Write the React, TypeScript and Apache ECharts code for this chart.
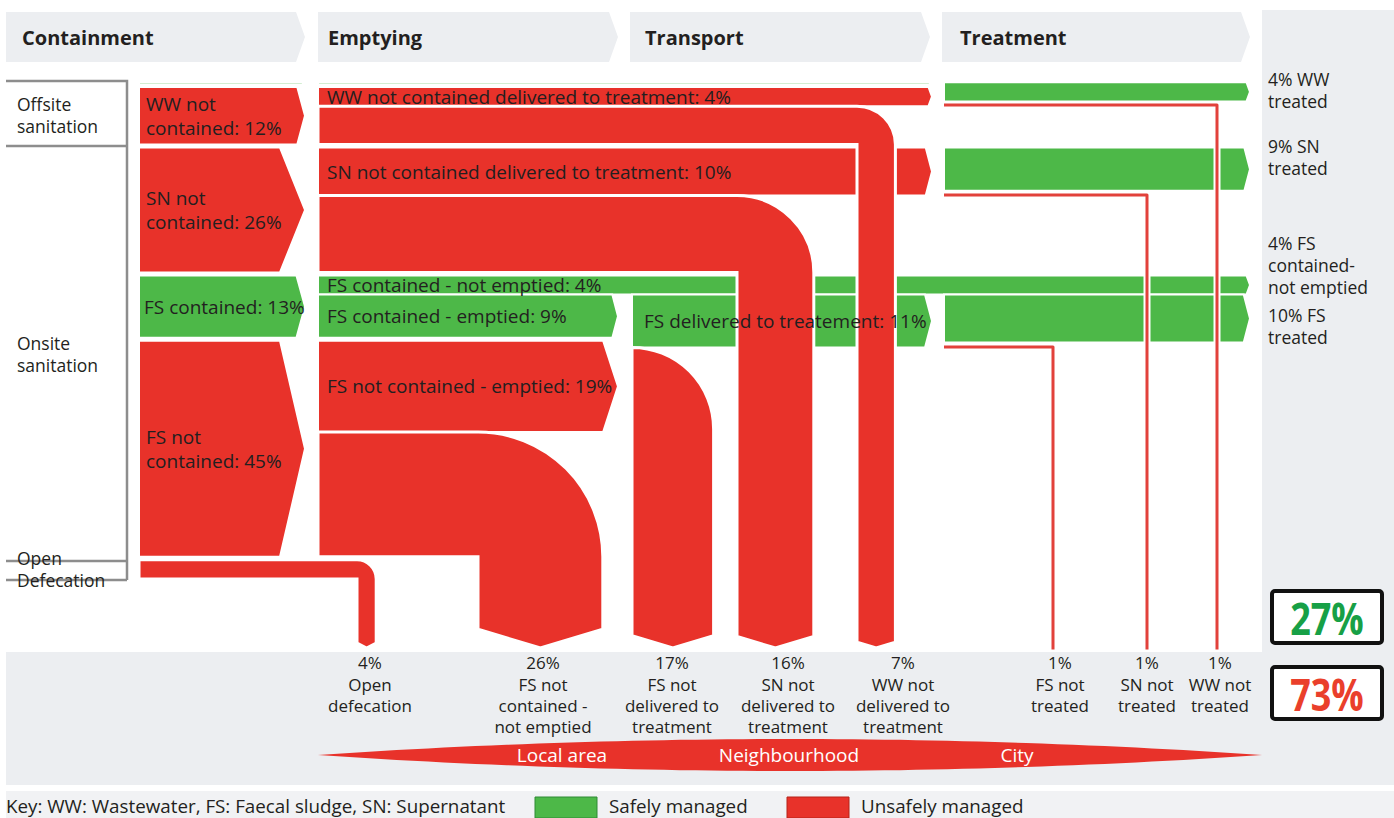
import React, { useEffect, useRef } from "react";
import * as echarts from "echarts";

// ---------------- data ----------------
const stageNames = ["Containment", "Emptying", "Transport", "Treatment"];
const sourceLabels = ["Offsite\nsanitation", "Onsite\nsanitation", "Open\nDefecation"];

const containLabels = ["WW not\ncontained: 12%", "SN not\ncontained: 26%", "FS contained: 13%", "FS not\ncontained: 45%", "4%"];
const containValues = [12, 26, 13, 45, 4];
const containSafe = [0, 0, 1, 0, 0];
const wwContainedValue = 0.5; // thin green sliver above the WW block

const emptyingLabels = [
  "WW not contained delivered to treatment: 4%",
  "SN not contained delivered to treatment: 10%",
  "FS contained - not emptied: 4%",
  "FS contained - emptied: 9%",
  "FS not contained - emptied: 19%",
];
const emptyingValues = [4, 10, 4, 9, 19];

const transportLabels = ["FS delivered to treatement: 11%"];
const transportValues = [11];

const treatmentLabels = ["4% WW\ntreated", "9% SN\ntreated", "4% FS\ncontained-\nnot emptied", "10% FS\ntreated"];
const treatmentValues = [4, 9, 4, 10];

const sinkNames = [
  "Open\ndefecation",
  "FS not\ncontained -\nnot emptied",
  "FS not\ndelivered to\ntreatment",
  "SN not\ndelivered to\ntreatment",
  "WW not\ndelivered to\ntreatment",
  "FS not\ntreated",
  "SN not\ntreated",
  "WW not\ntreated",
];
const sinkValues = [4, 26, 17, 16, 7, 1, 1, 1];

const summaryValues = [27, 73];
const scaleLabels = ["Local area", "Neighbourhood", "City"];
const keyText = "Key: WW: Wastewater, FS: Faecal sludge, SN: Supernatant";
const legendLabels = ["Safely managed", "Unsafely managed"];

// ---------------- style / layout ----------------
const RED = "#e8322a";
const GREEN = "#4db848";
const LINE_RED = "#e2413b";
const BG = "#eceef1";
const TEXT = "#231f20";
const FONT = "'Open Sans', 'Noto Sans', sans-serif";

const W = 1394;
const H = 818;
const TOP_PX = 87; // pixel of 0 %
const PX_PER_PCT = 4.8;
const Y_MIN = -TOP_PX / PX_PER_PCT;
const Y_MAX = (H - TOP_PX) / PX_PER_PCT;
const GAP = 0.625;
const SINK_Y = (648 - TOP_PX) / PX_PER_PCT;

const X = { c0: 139, c1: 305, e0: 318, e1: 618, t0: 632, t1: 932, r0: 944, r1: 1250 };
const dropLeft = { od: 357, fsNe: 478, fsNd: 632, snNd: 737, wwNd: 857 };
const leakX = { fs: 1053, sn: 1147, ww: 1217 };
const sinkLabelX = [370, 543, 672, 788, 903, 1060, 1147, 1220];
const headerX = [[6, 305], [318, 618], [630, 930], [942, 1250]];
const headerTextX = [22, 328, 645, 960];
const sourceLabelTop = [93, 332, 547];
const treatmentLabelTop = [68, 135, 232, 304];

// cumulative tops of containment blocks (in % units)
const contTop: number[] = [];
{
  let acc = 0;
  containValues.forEach((v) => {
    contTop.push(acc);
    acc += v + GAP;
  });
}
const slTop = -wwContainedValue - 0.5;
const fsEmptTop = contTop[2] + emptyingValues[2];

// bars: [x0, x1, yTop, pct, safe]
const bars: { v: number[]; label: string; dx: number }[] = [
  ...[0, 1, 2, 3].map((i) => ({ v: [X.c0, X.c1, contTop[i], containValues[i], containSafe[i]], label: containLabels[i], dx: i === 2 ? 5 : 7 })),
  { v: [X.c0, X.c1, slTop, wwContainedValue, 1], label: "", dx: 0 },
  { v: [X.e0, X.t1, slTop, wwContainedValue, 1], label: "", dx: 0 },
  { v: [X.e0, X.t1, contTop[0], emptyingValues[0], 0], label: emptyingLabels[0], dx: 9 },
  { v: [X.e0, X.t1, contTop[1], emptyingValues[1], 0], label: emptyingLabels[1], dx: 9 },
  { v: [X.e0, X.r1, contTop[2], emptyingValues[2], 1], label: emptyingLabels[2], dx: 9 },
  { v: [X.e0, X.e1, fsEmptTop, emptyingValues[3], 1], label: emptyingLabels[3], dx: 9 },
  { v: [X.e0, X.e1, contTop[3], emptyingValues[4], 0], label: emptyingLabels[4], dx: 9 },
  { v: [X.t0, X.t1, fsEmptTop, transportValues[0], 1], label: transportLabels[0], dx: 12 },
  { v: [X.r0, X.r1, slTop, treatmentValues[0], 1], label: "", dx: 0 },
  { v: [X.r0, X.r1, contTop[1], treatmentValues[1], 1], label: "", dx: 0 },
  { v: [X.r0, X.r1, fsEmptTop, treatmentValues[3], 1], label: "", dx: 0 },
];

// drops: [x0, xLeft, yTop, pct]
const drops = [
  [X.t0, dropLeft.fsNd, fsEmptTop + transportValues[0], emptyingValues[3] + emptyingValues[4] - transportValues[0]],
  [X.e0, dropLeft.fsNe, contTop[3] + emptyingValues[4], containValues[3] - emptyingValues[4]],
  [X.c0, dropLeft.od, contTop[4], containValues[4]],
  [X.e0, dropLeft.snNd, contTop[1] + emptyingValues[1], containValues[1] - emptyingValues[1]],
  [X.e0, dropLeft.wwNd, contTop[0] + emptyingValues[0], containValues[0] - emptyingValues[0]],
];

// leaks (1% lines): [x0, xDrop, y]
const leaks = [
  [X.r0, leakX.ww, slTop + treatmentValues[0] + 0.75],
  [X.r0, leakX.sn, contTop[1] + treatmentValues[1] + 0.85],
  [X.r0, leakX.fs, fsEmptTop + treatmentValues[3] + 0.9],
];

const labelled = bars.filter((b) => b.label);
const labelData = labelled.map((b) => [b.v[0], b.v[2] + b.v[3] / 2]);

// ---------------- render helpers ----------------
const renderBar = (_p: any, api: any) => {
  const a = api.coord([api.value(0), api.value(2)]);
  const b = api.coord([api.value(1), api.value(2) + api.value(3)]);
  const h = b[1] - a[1];
  const tip = Math.min(25, 3 + (h * h) / 700);
  const ym = (a[1] + b[1]) / 2;
  return {
    type: "path",
    shape: { pathData: `M${a[0]} ${a[1]}L${b[0] - tip} ${a[1]}L${b[0]} ${ym}L${b[0] - tip} ${b[1]}L${a[0]} ${b[1]}Z` },
    style: { fill: api.value(4) ? GREEN : RED, stroke: "#fff", lineWidth: 2 },
  };
};

const renderDrop = (_p: any, api: any) => {
  const a = api.coord([api.value(0), api.value(2)]);
  const b = api.coord([api.value(1), api.value(2) + api.value(3)]);
  const t = api.coord([api.value(1), SINK_Y]);
  const w = b[1] - a[1];
  const xl = b[0];
  const xr = xl + w;
  const r = w;
  const tip = Math.max(5, w * 0.15);
  const yb = t[1] - tip;
  const d =
    `M${a[0]} ${a[1]}L${xr - r} ${a[1]}A${r} ${r} 0 0 1 ${xr} ${a[1] + r}` +
    `L${xr} ${yb}L${xl + w / 2} ${t[1]}L${xl} ${yb}L${xl} ${b[1]}L${a[0]} ${b[1]}Z`;
  return { type: "path", shape: { pathData: d }, style: { fill: RED, stroke: "#fff", lineWidth: 3 } };
};

const renderLeak = (_p: any, api: any) => {
  const p0 = api.coord([api.value(0), api.value(2)]);
  const p1 = api.coord([api.value(1), api.value(2)]);
  const p2 = api.coord([api.value(1), SINK_Y + 0.3]);
  const pts = [p0, p1, p2];
  return {
    type: "group",
    children: [
      { type: "polyline", shape: { points: pts }, style: { stroke: "#fff", lineWidth: 7, fill: null, lineJoin: "round" } },
      { type: "polyline", shape: { points: pts }, style: { stroke: LINE_RED, lineWidth: 3, fill: null, lineJoin: "round" } },
    ],
  };
};

const renderLabel = (p: any, api: any) => {
  const c = api.coord([api.value(0), api.value(1)]);
  return {
    type: "text",
    x: c[0] + labelled[p.dataIndex].dx,
    y: c[1],
    style: {
      text: labelled[p.dataIndex].label,
      fill: TEXT,
      fontSize: 19,
      fontFamily: FONT,
      lineHeight: 23.5,
      align: "left",
      verticalAlign: "middle",
    },
  };
};

const txt = (text: string, x: number, y: number, extra: any = {}) => ({
  type: "text",
  x,
  y,
  z: 20,
  style: { text, fill: TEXT, fontSize: 17.5, fontFamily: FONT, lineHeight: 22, align: "left", verticalAlign: "top", ...extra },
});

const lensPoints = (() => {
  const pts: number[][] = [];
  const x0 = 318, x1 = 1262, yc = 755, k = 64;
  for (let i = 0; i <= 60; i++) {
    const t = i / 60;
    pts.push([x0 + (x1 - x0) * t, yc - k * t * (1 - t)]);
  }
  for (let i = 59; i >= 1; i--) {
    const t = i / 60;
    pts.push([x0 + (x1 - x0) * t, yc + k * t * (1 - t)]);
  }
  return pts;
})();

const buildGraphic = () => {
  const els: any[] = [];
  // backgrounds
  els.push({ type: "rect", z: 0, shape: { x: 1262, y: 10, width: W - 1262, height: 642 }, style: { fill: BG } });
  els.push({ type: "rect", z: 0, shape: { x: 6, y: 652, width: W - 6, height: 133 }, style: { fill: BG } });
  els.push({ type: "rect", z: 0, shape: { x: 6, y: 791, width: W - 6, height: 27 }, style: { fill: "#f1f2f4" } });
  // header chevrons
  headerX.forEach(([a, b], i) => {
    els.push({
      type: "polygon",
      z: 0,
      shape: { points: [[a, 12], [b - 9, 12], [b, 37], [b - 9, 62], [a, 62]] },
      style: { fill: BG },
    });
    els.push(txt(stageNames[i], headerTextX[i], 37, { fontSize: 20, fontWeight: "bold", verticalAlign: "middle", lineHeight: 26 }));
  });
  // source boxes
  const boxStyle = { stroke: "#8d8d8d", lineWidth: 2.5, fill: null };
  els.push({ type: "polyline", z: 5, shape: { points: [[6, 81], [127, 81], [127, 580]] }, style: boxStyle });
  [146, 561, 580].forEach((y) => els.push({ type: "polyline", z: 5, shape: { points: [[6, y], [127, y]] }, style: boxStyle }));
  sourceLabels.forEach((s, i) => els.push(txt(s, 17, sourceLabelTop[i])));
  // treatment labels
  treatmentLabels.forEach((s, i) => els.push(txt(s, 1268, treatmentLabelTop[i])));
  // sink labels
  sinkNames.forEach((s, i) =>
    els.push(txt(`${sinkValues[i]}%\n${s}`, sinkLabelX[i], 652, { align: "center", fontSize: 17, lineHeight: 21.4 }))
  );
  // summary boxes
  const boxY = [591, 667];
  const boxCol = ["#17a046", "#ea3f2b"];
  summaryValues.forEach((v, i) => {
    els.push({
      type: "rect",
      z: 10,
      shape: { x: 1272, y: boxY[i], width: 110, height: 52, r: 3 },
      style: { fill: "#fff", stroke: "#111", lineWidth: 4 },
    });
    els.push({
      ...txt(`${v}%`, 1327, boxY[i] + 26, {
        align: "center",
        verticalAlign: "middle",
        fontSize: 36,
        fontWeight: "bold",
        fill: boxCol[i],
        lineHeight: 44,
      }),
      scaleY: 1.25,
    });
  });
  // lens
  els.push({ type: "polygon", z: 5, shape: { points: lensPoints }, style: { fill: RED } });
  const lensX = [562, 789, 1017];
  scaleLabels.forEach((s, i) =>
    els.push(txt(s, lensX[i], 755, { align: "center", verticalAlign: "middle", fill: "#fff", fontSize: 19, lineHeight: 24 }))
  );
  // key
  els.push(txt(keyText, 6, 805.5, { verticalAlign: "middle", fontSize: 18.8, lineHeight: 23 }));
  const swX = [535, 787];
  const swC = [GREEN, RED];
  const swS = ["#2f8a35", "#b52218"];
  legendLabels.forEach((s, i) => {
    els.push({
      type: "rect",
      z: 10,
      shape: { x: swX[i], y: 797, width: 62, height: 21 },
      style: { fill: swC[i], stroke: swS[i], lineWidth: 1 },
    });
    els.push(txt(s, swX[i] + 74, 805.5, { verticalAlign: "middle", fontSize: 18.8, lineHeight: 23 }));
  });
  return els;
};

export default function App() {
  const ref = useRef<HTMLDivElement>(null);
  useEffect(() => {
    document.body.style.margin = "0";
    const chart = echarts.init(ref.current as HTMLDivElement, null, { renderer: "svg" });
    chart.setOption({
      animation: false,
      backgroundColor: "#ffffff",
      grid: { left: 0, top: 0, right: 0, bottom: 0 },
      xAxis: { type: "value", min: 0, max: W, show: false },
      yAxis: { type: "value", min: Y_MIN, max: Y_MAX, inverse: true, show: false },
      graphic: { elements: buildGraphic() },
      series: [
        { type: "custom", name: "bars", renderItem: renderBar, data: bars.map((b) => b.v), z: 2 },
        { type: "custom", name: "drops", renderItem: renderDrop, data: drops, z: 3 },
        { type: "custom", name: "leaks", renderItem: renderLeak, data: leaks, z: 4 },
        { type: "custom", name: "labels", renderItem: renderLabel, data: labelData, z: 6 },
      ],
    });
    return () => chart.dispose();
  }, []);
  return <div ref={ref} style={{ width: W, height: H }} />;
}
